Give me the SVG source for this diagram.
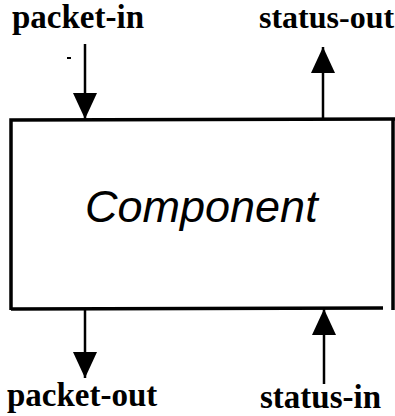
<svg xmlns="http://www.w3.org/2000/svg" width="395" height="416" viewBox="0 0 395 416">
  <style>
    .lbl { font-family: "Liberation Serif", "Times New Roman", serif; font-weight: bold; font-size: 33px; fill: #000; }
    .title { font-family: "Liberation Sans", Arial, sans-serif; font-style: italic; font-size: 45px; fill: #000; }
    .edge { stroke: #000; stroke-width: 3.5; fill: none; }
    .conn { stroke: #000; stroke-width: 2.5; fill: none; marker-end: url(#arrow); }
  </style>
  <defs>
    <marker id="arrow" viewBox="0 0 26 24" refX="26" refY="12" markerWidth="26" markerHeight="24" markerUnits="userSpaceOnUse" orient="auto">
      <path d="M0,0 L26,12 L0,24 Z" fill="#000"/>
    </marker>
  </defs>
  <rect width="395" height="416" fill="#fff"/>
  <g id="component">
    <path class="edge" d="M11,310 L11,120 L395,119"/>
    <path class="edge" d="M393,119 L393,310"/>
    <path class="edge" d="M11,309 L383,308"/>
    <text class="title" x="85" y="222">Component</text>
  </g>
  <g id="packet-in">
    <text class="lbl" x="12" y="28">packet-in</text>
  </g>
  <g id="status-out">
    <text class="lbl" x="259" y="28" style="font-size:32px">status-out</text>
  </g>
  <g id="packet-out">
    <text class="lbl" x="7" y="406">packet-out</text>
  </g>
  <g id="status-in">
    <text class="lbl" x="260" y="408">status-in</text>
  </g>
  <g id="connectors">
    <line class="conn" x1="85" y1="44" x2="85" y2="119"/>
    <line class="conn" x1="323" y1="119" x2="323" y2="47"/>
    <line class="conn" x1="85" y1="309" x2="85" y2="378"/>
    <line class="conn" x1="324" y1="384" x2="324" y2="309"/>
    <line x1="67" y1="58" x2="71" y2="58" stroke="#000" stroke-width="2"/>
  </g>
</svg>
